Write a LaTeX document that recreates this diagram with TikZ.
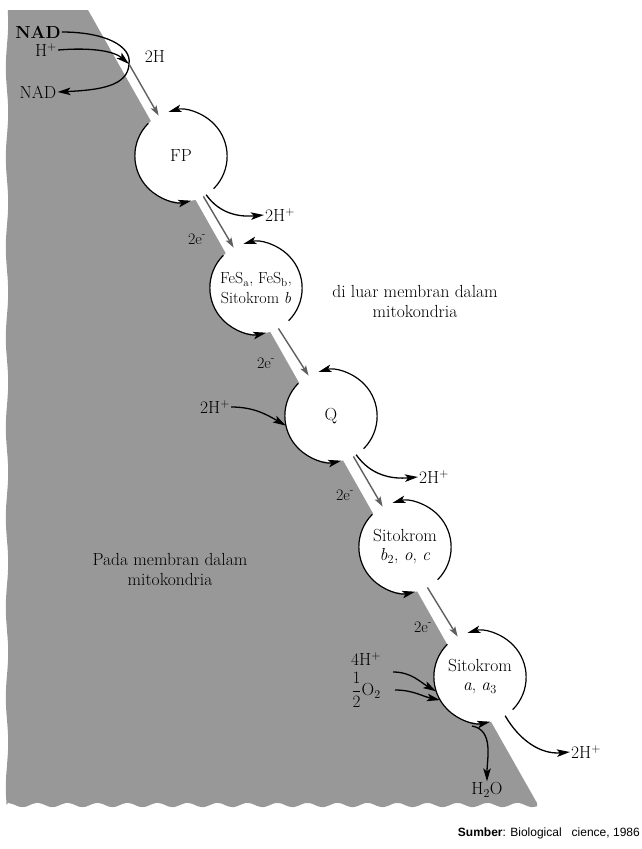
\documentclass[tikz,border=0pt]{standalone}
\usepackage{fontspec}
\newfontfamily\arialf{Liberation Sans}
\usetikzlibrary{arrows.meta}
\definecolor{memb}{RGB}{152,152,152}
\definecolor{garrow}{RGB}{95,95,95}
\tikzset{
  lbl/.style={inner sep=1pt, font=\fontsize{17.5}{19}\selectfont},
  elbl/.style={inner sep=1pt, font=\fontsize{16}{18}\selectfont},
  cell/.style={circle, fill=white, minimum size=92pt, inner sep=0pt, align=center, font=\fontsize{17.5}{19}\selectfont},
  ring/.style={black, line width=1.2pt, -{Stealth[length=13pt,width=7.5pt,inset=3pt]}},
  flow/.style={garrow, line width=1.4pt, -{Stealth[length=10pt,width=6.5pt,inset=2pt]}},
  blk/.style={black, line width=1.3pt, -{Stealth[length=13pt,width=7.5pt,inset=3pt]}}
}
\begin{document}
\begin{tikzpicture}[x=1pt,y=1pt]
\useasboundingbox (0,0) rectangle (642,-849);
% membrane region
\fill[memb] (88,-10) -- (537,-803)
  -- plot[domain=537:8, samples=90, smooth] (\x, {-805+2.2*sin(12*\x)})
  -- plot[domain=805:10, samples=60, smooth] ({7+1.2*sin(4*\x)}, -\x)
  -- cycle;
% carriers
\node[cell] (fp) at (181,-156) {FP};
\node[cell, font=\fontsize{16}{19}\selectfont] (fes) at (256,-288) {FeS\textsubscript{a}, FeS\textsubscript{b},\\[1pt] Sitokrom \textit{b}};
\node[cell] (q) at (331,-416) {Q};
\node[cell] (b2) at (405,-547) {Sitokrom\\[0pt] \textit{b}\textsubscript{2}, \textit{o}, \textit{c}};
\node[cell] (a) at (480,-677) {Sitokrom\\[0pt] \textit{a}, \textit{a}\textsubscript{3}};
% rings
\foreach \n in {fp,fes,q,b2,a}{
  \draw[ring] (\n.-45) arc[start angle=-45, end angle=106, radius=46pt];
  \draw[ring] (\n.135) arc[start angle=135, end angle=283, radius=46pt];
}
% NAD
\node[lbl, font=\fontsize{17.5}{19}\selectfont\bfseries] (nad1) at (38,-32) {NAD};
\node[lbl] (hp) at (46,-50) {H$^+$};
\node[lbl] (nad2) at (38,-92) {NAD};
\node[lbl] (twoh) at (155,-57) {2H};
\coordinate (junc) at (129,-64);
\draw[blk] (nad1.east) .. controls (105,-32) and (132,-46) .. (junc) .. controls (128,-86) and (100,-90) .. (nad2.east);
\draw[blk] (hp.east) .. controls (95,-47) and (115,-52) .. (junc);
% electron flow
\draw[flow] (junc) -- (fp.119);
\draw[flow] (fp.-61) -- (fes.119);
\draw[flow] (fes.-61) -- (q.119);
\draw[flow] (q.-61) -- (b2.119);
\draw[flow] (b2.-61) -- (a.119);
\node[elbl] (e1) at (197,-239) {2e\textsuperscript{-}};
\node[elbl] (e2) at (266,-363) {2e\textsuperscript{-}};
\node[elbl] (e3) at (345,-495) {2e\textsuperscript{-}};
\node[elbl] (e4) at (423,-627) {2e\textsuperscript{-}};
% protons
\node[lbl] (h1) at (280,-215) {2H$^+$};
\draw[blk] (fp.-57) to[out=-55, in=185] (h1.west);
\node[lbl] (qin) at (215,-407) {2H$^+$};
\draw[blk] (qin.east) to[out=0, in=150] (q.192);
\node[lbl] (qh) at (434,-477) {2H$^+$};
\draw[blk] (q.-57) to[out=-55, in=185] (qh.west);
\node[lbl] (four) at (366,-659) {4H$^+$};
\node[lbl] (half) at (366,-690) {$\displaystyle\frac{1}{2}$O$_2$};
\coordinate (s1) at (393,-672);
\coordinate (s2) at (395,-690);
\draw[blk] (s1) to[out=0, in=150] (a.198);
\draw[blk] (s2) to[out=0, in=168] (a.210);
\node[lbl] (ah) at (586,-752) {2H$^+$};
\draw[blk] (a.-57) to[out=-60, in=185] (ah.west);
\node[lbl] (h2o) at (487,-790) {H$_2$O};
\coordinate (s3) at (472,-726);
\draw[blk] (s3) to[out=-10, in=90] (h2o.north);
% region labels
\node[lbl, align=center, font=\fontsize{17.5}{20}\selectfont] (outer) at (415,-301) {di luar membran dalam\\mitokondria};
\node[lbl, align=center, font=\fontsize{17.5}{20}\selectfont] (inner) at (170,-569) {Pada membran dalam\\mitokondria};
% source
\node[anchor=east, inner sep=0pt, font=\arialf\fontsize{12}{14}\selectfont] (src) at (640,-833) {\textbf{Sumber}: Biological\ \ \ cience, 1986};
\end{tikzpicture}
\end{document}
